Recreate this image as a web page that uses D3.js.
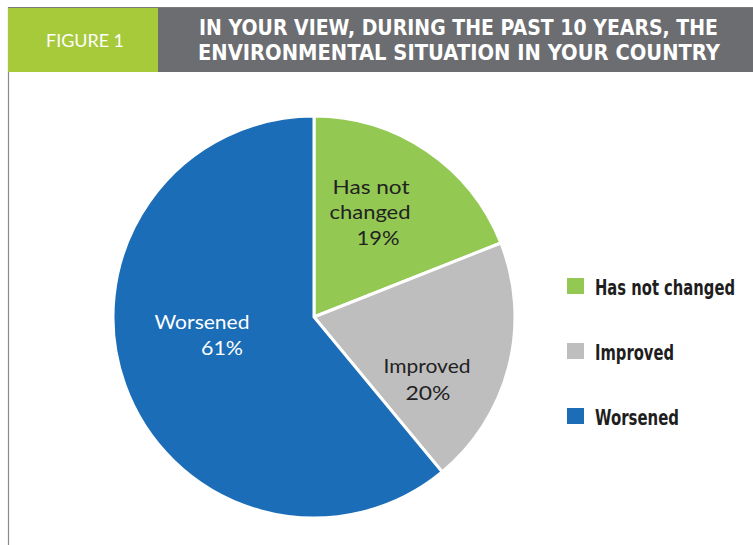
<!DOCTYPE html>
<html>
<head>
<meta charset="utf-8">
<script src="https://cdn.jsdelivr.net/npm/d3@7"></script>
<style>
  html, body { margin: 0; padding: 0; background: #fff; }
  svg { display: block; }
</style>
</head>
<body>
<svg id="chart" width="753" height="545"></svg>
<script>
// Survey answers, clockwise from 12 o'clock
const categories = ["Has not changed", "Improved", "Worsened"];
const shares = [19, 20, 61];
const sliceLabels = [["Has not", "changed", "19%"], ["Improved", "20%"], ["Worsened", "61%"]];
const colors = ["#93c853", "#bebebe", "#1a6db6"];
const titleLines = ["IN YOUR VIEW, DURING THE PAST 10 YEARS, THE", "ENVIRONMENTAL SITUATION IN YOUR COUNTRY"];
const figureTag = "FIGURE 1";

const svg = d3.select("#chart");
const boldFace = "'DejaVu Sans', sans-serif";
const plainFace = "'Lato', 'Noto Sans', sans-serif";

// frame line on the left
svg.append("line").attr("x1", 8.5).attr("x2", 8.5).attr("y1", 7).attr("y2", 545)
  .attr("stroke", "#8a8a8a").attr("stroke-width", 1.2);

// header bands
svg.append("rect").attr("x", 8).attr("y", 8).attr("width", 150).attr("height", 64).attr("fill", "#a6ca3a");
svg.append("rect").attr("x", 158).attr("y", 8).attr("width", 595).attr("height", 64).attr("fill", "#6c6d70");
svg.append("line").attr("x1", 8).attr("x2", 753).attr("y1", 7.5).attr("y2", 7.5).attr("stroke", "#7a7b7e").attr("stroke-width", 1);

svg.append("text").attr("x", 46).attr("y", 47)
  .attr("fill", "#fff").style("font-family", plainFace).style("font-size", "18px")
  .attr("textLength", 78).attr("lengthAdjust", "spacingAndGlyphs")
  .text(figureTag);

const titleSpan = [[199, 519], [198, 522]];
svg.selectAll("text.title").data(titleLines).join("text")
  .attr("class", "title")
  .attr("x", (d, i) => titleSpan[i][0]).attr("y", (d, i) => 35 + i * 24.5)
  .attr("textLength", (d, i) => titleSpan[i][1]).attr("lengthAdjust", "spacingAndGlyphs")
  .attr("fill", "#fff").style("font-family", boldFace).style("font-weight", "bold").style("font-size", "20.5px")
  .text(d => d);

// pie
const cx = 314, cy = 317, radius = 201;
const pie = d3.pie().sort(null).value(d => d)(shares);
const arc = d3.arc().innerRadius(0).outerRadius(radius);
const g = svg.append("g").attr("transform", `translate(${cx},${cy})`);
g.selectAll("path").data(pie).join("path")
  .attr("d", arc)
  .attr("fill", (d, i) => colors[i])
  .attr("stroke", "#fff").attr("stroke-width", 3).attr("stroke-linejoin", "miter");

// slice labels: each line is placed relative to the slice's label point
const labelArc = d3.arc().innerRadius(0).outerRadius(radius);
const lineLayout = [
  [{ dx: -1, dy: -25, w: 77 }, { dx: -2, dy: 0, w: 81 }, { dx: 6, dy: 26, w: 43 }],
  [{ dx: 0, dy: -13, w: 87 }, { dx: 1, dy: 14, w: 45 }],
  [{ dx: 0, dy: -13, w: 95 }, { dx: 20, dy: 13, w: 42 }]
];
const labelPoint = [[58, -105], [113, 62], [-112, 18]];
pie.forEach((d, i) => {
  const [px, py] = labelPoint[i];
  sliceLabels[i].forEach((s, k) => {
    const L = lineLayout[i][k];
    g.append("text")
      .attr("x", px + L.dx - L.w / 2).attr("y", py + L.dy + 7)
      .attr("textLength", L.w).attr("lengthAdjust", "spacingAndGlyphs")
      .attr("fill", i === 2 ? "#fff" : "#222")
      .style("font-family", plainFace).style("font-size", "19px")
      .text(s);
  });
});

// legend
const legendWidths = [140, 79, 84];
const legend = svg.append("g").attr("transform", "translate(567,278)");
const item = legend.selectAll("g").data(categories).join("g")
  .attr("transform", (d, i) => `translate(0,${i * 65})`);
item.append("rect").attr("width", 17).attr("height", 16).attr("fill", (d, i) => colors[i]);
item.append("text").attr("x", 28).attr("y", 16.5)
  .attr("textLength", (d, i) => legendWidths[i]).attr("lengthAdjust", "spacingAndGlyphs")
  .attr("fill", "#1e1e1e").style("font-family", boldFace).style("font-weight", "bold").style("font-size", "21px")
  .text(d => d);
</script>
</body>
</html>
